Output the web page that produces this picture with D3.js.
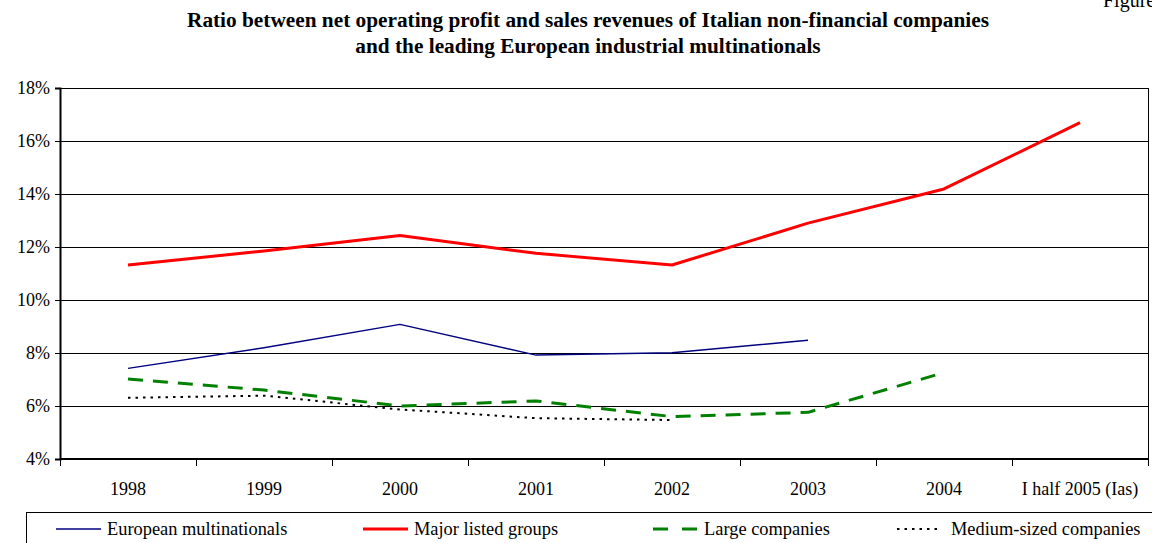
<!DOCTYPE html>
<html>
<head>
<meta charset="utf-8">
<script src="https://cdn.jsdelivr.net/npm/d3@7"></script>
<style>
  html, body { margin: 0; padding: 0; background: #fff; }
  svg { display: block; }
  svg text { font-family: "Liberation Serif", "Times New Roman", serif; fill: #000; }
</style>
</head>
<body>
<svg id="chart" width="1152" height="543"></svg>
<script>
// Categories and series (percent of sales revenues)
const categories = ["1998", "1999", "2000", "2001", "2002", "2003", "2004", "I half 2005 (Ias)"];
const europeanMultinationals = [7.42, 8.2, 9.08, 7.92, 8.01, 8.48, null, null];
const majorListedGroups = [11.32, 11.85, 12.43, 11.76, 11.32, 12.9, 14.19, 16.69];
const largeCompanies = [7.02, 6.6, 6.0, 6.19, 5.6, 5.76, 7.26, null];
const mediumCompanies = [6.31, 6.39, 5.87, 5.54, 5.47, null, null, null];
const yTicks = [4, 6, 8, 10, 12, 14, 16, 18];

const series = [
  { name: "European multinationals", values: europeanMultinationals, color: "#000080", width: 1.5, dash: null, legendDash: null },
  { name: "Major listed groups", values: majorListedGroups, color: "#ff0000", width: 3, dash: null, legendDash: null },
  { name: "Large companies", values: largeCompanies, color: "#008000", width: 3, dash: "15,10", legendDash: "15,14" },
  { name: "Medium-sized companies", values: mediumCompanies, color: "#000000", width: 2, dash: "2.5,5", legendDash: "2.5,5" }
];

const svg = d3.select("#chart");
const plot = { left: 60, right: 1148, top: 88, bottom: 459 };

const x = d3.scaleBand().domain(categories).range([plot.left, plot.right]);
const y = d3.scaleLinear().domain([4, 18]).range([plot.bottom, plot.top]);

// Header
svg.append("text").attr("x", 1103).attr("y", 7)
  .style("font-size", "20px").text("Figure");
const title = svg.append("text").attr("text-anchor", "middle")
  .style("font-size", "21.3px").style("font-weight", "bold");
title.append("tspan").attr("x", 588).attr("y", 27)
  .text("Ratio between net operating profit and sales revenues of Italian non-financial companies");
title.append("tspan").attr("x", 588).attr("y", 53)
  .text("and the leading European industrial multinationals");

// Horizontal gridlines
svg.append("g").selectAll("line").data(yTicks).join("line")
  .attr("x1", plot.left).attr("x2", plot.right)
  .attr("y1", d => Math.round(y(d)) + 0.5).attr("y2", d => Math.round(y(d)) + 0.5)
  .attr("stroke", "#000").attr("stroke-width", 1)
  .attr("shape-rendering", "crispEdges");

// Plot frame
svg.append("rect")
  .attr("x", plot.left + 0.5).attr("y", plot.top + 0.5)
  .attr("width", plot.right - plot.left).attr("height", plot.bottom - plot.top)
  .attr("fill", "none").attr("stroke", "#000").attr("stroke-width", 1)
  .attr("shape-rendering", "crispEdges");

// Y axis
const yAxis = svg.append("g").attr("transform", `translate(${plot.left},0)`)
  .call(d3.axisLeft(y).tickValues(yTicks).tickFormat(d => d + "%").tickSize(5).tickPadding(5));
yAxis.attr("font-family", null).attr("font-size", null);
yAxis.select(".domain").attr("stroke", "#000").attr("stroke-width", 2);
yAxis.selectAll(".tick line").attr("stroke", "#000");
yAxis.selectAll("text").style("font-size", "18px");

// X axis: ticks at category boundaries, labels at category centres
const xAxisG = svg.append("g").attr("transform", `translate(0,${plot.bottom})`);
xAxisG.append("line").attr("x1", plot.left).attr("x2", plot.right)
  .attr("stroke", "#000").attr("stroke-width", 2);
const boundaries = categories.map(c => x(c)).concat([x(categories[categories.length - 1]) + x.bandwidth()]);
xAxisG.selectAll("line.tick").data(boundaries).join("line").attr("class", "tick")
  .attr("x1", d => Math.round(d) + 0.5).attr("x2", d => Math.round(d) + 0.5).attr("y1", 0).attr("y2", 7)
  .attr("stroke", "#000").attr("stroke-width", 1);
xAxisG.selectAll("text").data(categories).join("text")
  .attr("x", d => x(d) + x.bandwidth() / 2).attr("y", 36)
  .attr("text-anchor", "middle").style("font-size", "18px").text(d => d);

// Series lines
const line = d3.line()
  .defined(d => d.v != null)
  .x(d => x(d.c) + x.bandwidth() / 2)
  .y(d => y(d.v));

series.forEach(s => {
  const pts = categories.map((c, i) => ({ c, v: s.values[i] }));
  svg.append("path").datum(pts)
    .attr("d", line)
    .attr("fill", "none")
    .attr("stroke", s.color)
    .attr("stroke-width", s.width)
    .attr("stroke-dasharray", s.dash)
    .attr("stroke-linejoin", "round");
});

// Legend
svg.append("rect").attr("x", 26.5).attr("y", 512.5).attr("width", 1140).attr("height", 60)
  .attr("fill", "none").attr("stroke", "#000").attr("stroke-width", 1);
const legendPos = [56, 363, 653, 897];
series.forEach((s, i) => {
  const lx = legendPos[i];
  const g = svg.append("g");
  g.append("line").attr("x1", lx).attr("x2", lx + 45).attr("y1", 529).attr("y2", 529)
    .attr("stroke", s.color).attr("stroke-width", s.width)
    .attr("stroke-dasharray", s.legendDash);
  g.append("text").attr("x", lx + 51 + (i === 3 ? 3 : 0)).attr("y", 535)
    .style("font-size", "18.4px").text(s.name);
});
</script>
</body>
</html>
